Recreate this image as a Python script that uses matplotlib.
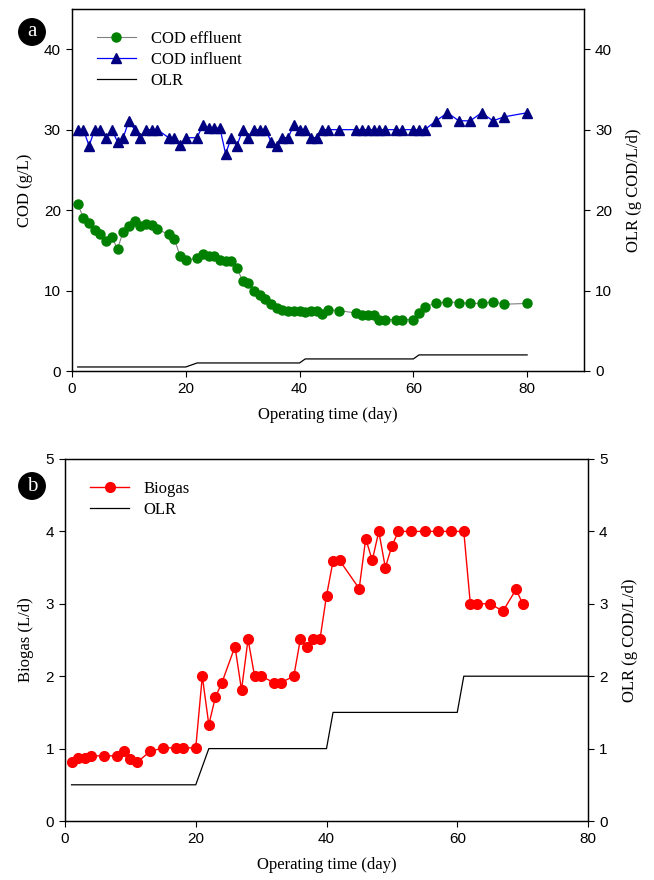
import matplotlib
matplotlib.use("Agg")
import matplotlib.pyplot as plt

# --- dane: panel a ---
eff_day = [1, 2, 3, 4, 5, 6, 7, 8, 9, 10, 11, 12, 13, 14, 15, 17, 18, 19, 20,
           22, 23, 24, 25, 26, 27, 28, 29, 30, 31, 32, 33, 34, 35, 36, 37, 38,
           39, 40, 41, 42, 43, 44, 45, 47, 50, 51, 52, 53, 54, 55, 57, 58, 60,
           61, 62, 64, 66, 68, 70, 72, 74, 76, 80]
eff_cod = [20.8, 19.0, 18.4, 17.5, 17.0, 16.1, 16.6, 15.2, 17.3, 18.0, 18.7,
           18.0, 18.3, 18.2, 17.6, 17.0, 16.4, 14.3, 13.8, 14.0, 14.5, 14.3,
           14.3, 13.8, 13.7, 13.7, 12.8, 11.2, 10.9, 9.9, 9.4, 8.9, 8.3, 7.8,
           7.6, 7.4, 7.4, 7.4, 7.3, 7.4, 7.5, 7.1, 7.6, 7.5, 7.2, 7.0, 6.9,
           6.9, 6.4, 6.4, 6.4, 6.4, 6.4, 7.2, 8.0, 8.4, 8.6, 8.5, 8.4, 8.4,
           8.6, 8.3, 8.4]

inf_day = [1, 2, 3, 4, 5, 6, 7, 8, 9, 10, 11, 12, 13, 14, 15, 17, 18, 19, 20,
           22, 23, 24, 25, 26, 27, 28, 29, 30, 31, 32, 33, 34, 35, 36, 37, 38,
           39, 40, 41, 42, 43, 44, 45, 47, 50, 51, 52, 53, 54, 55, 57, 58, 60,
           61, 62, 64, 66, 68, 70, 72, 74, 76, 80]
inf_cod = [30, 30, 28, 30, 30, 29, 30, 28.5, 29, 31.1, 30, 29, 30, 30, 30, 29,
           29, 28.1, 29, 29, 30.6, 30.2, 30.2, 30.2, 27, 29, 28, 30, 29, 30,
           30, 30, 28.5, 28, 29, 29, 30.6, 30, 30, 29, 29, 30, 30, 30, 30, 30,
           30, 30, 30, 30, 30, 30, 30, 30, 30, 31.1, 32.1, 31.1, 31.1, 32.1,
           31.1, 31.6, 32.1]

olr_day_a = [1, 20, 22, 40, 41, 60, 61, 80]
olr_a = [0.5, 0.5, 1.0, 1.0, 1.5, 1.5, 2.0, 2.0]

# --- dane: panel b ---
bio_day = [1, 2, 3, 4, 6, 8, 9, 10, 11, 13, 15, 17, 18, 20, 21, 22, 23, 24,
           26, 27, 28, 29, 30, 32, 33, 35, 36, 37, 38, 39, 40, 41, 42, 45, 46,
           47, 48, 49, 50, 51, 53, 55, 57, 59, 61, 62, 63, 65, 67, 69, 70]
biogas = [0.81, 0.87, 0.87, 0.90, 0.90, 0.90, 0.97, 0.86, 0.81, 0.96, 1.01,
          1.01, 1.01, 1.01, 2.0, 1.33, 1.71, 1.91, 2.41, 1.81, 2.51, 2.0, 2.0,
          1.91, 1.91, 2.0, 2.51, 2.41, 2.51, 2.51, 3.11, 3.59, 3.6, 3.21, 3.9,
          3.6, 4.0, 3.5, 3.8, 4.0, 4.0, 4.0, 4.0, 4.0, 4.0, 3.0, 3.0, 3.0,
          2.9, 3.2, 3.0]

olr_day_b = [1, 20, 22, 40, 41, 60, 61, 80]
olr_b = [0.5, 0.5, 1.0, 1.0, 1.5, 1.5, 2.0, 2.0]

SERIF = "Liberation Serif"
SANS = "Liberation Sans"
TICK_FS = 11
LABEL_FS = 12


def style_axis(ax, ax2):
    for a in (ax, ax2):
        a.tick_params(direction="out", length=4.5, width=0.8, labelsize=TICK_FS)
        for lab in a.get_xticklabels() + a.get_yticklabels():
            lab.set_fontfamily(SANS)
        for sp in a.spines.values():
            sp.set_linewidth(0.9)


def panel_badge(fig, x, y, letter):
    fig.text(x, y, letter, ha="center", va="center", color="white",
             fontsize=15, family=SERIF,
             bbox=dict(boxstyle="circle,pad=0.18", fc="black", ec="black"))


def legend(ax, handles):
    ax.legend(handles=handles, loc="upper left",
              bbox_to_anchor=(0.02, 0.98), frameon=False,
              prop={"family": SERIF, "size": 12}, handlelength=2.3,
              labelspacing=0.3, handletextpad=0.9)


fig = plt.figure(figsize=(6.54, 8.8), dpi=100)

# --- panel a ---
ax1 = fig.add_axes([72 / 654, 1 - 371 / 880, 512 / 654, 362 / 880])
ax1b = ax1.twinx()
l_eff, = ax1.plot(eff_day, eff_cod, color="#808080", lw=0.8, marker="o",
                  ms=6.5, mfc="#008000", mec="#008000", label="COD effluent")
l_inf, = ax1.plot(inf_day, inf_cod, color="#0000ff", lw=0.9, marker="^",
                  ms=7, mfc="#000080", mec="#000080", label="COD influent")
l_olr, = ax1b.plot(olr_day_a, olr_a, color="black", lw=0.9, label="OLR")
ax1.set_xlim(0, 90)
ax1.set_ylim(0, 45)
ax1b.set_ylim(0, 45)
ax1.set_xticks([0, 20, 40, 60, 80])
ax1.set_yticks([0, 10, 20, 30, 40])
ax1b.set_yticks([0, 10, 20, 30, 40])
ax1.set_xlabel("Operating time (day)", family=SERIF, fontsize=LABEL_FS, labelpad=8)
ax1.set_ylabel("COD (g/L)", family=SERIF, fontsize=LABEL_FS, labelpad=8)
ax1b.set_ylabel("OLR (g COD/L/d)", family=SERIF, fontsize=LABEL_FS, labelpad=10)
style_axis(ax1, ax1b)
legend(ax1, [l_eff, l_inf, l_olr])

# --- panel b ---
ax2 = fig.add_axes([65 / 654, 1 - 821 / 880, 523 / 654, 362 / 880])
ax2b = ax2.twinx()
l_bio, = ax2.plot(bio_day, biogas, color="#ff0000", lw=1.0, marker="o",
                  ms=7, mfc="#ff0000", mec="#ff0000", label="Biogas")
l_olr2, = ax2b.plot(olr_day_b, olr_b, color="black", lw=0.9, label="OLR")
ax2.set_xlim(0, 80)
ax2.set_ylim(0, 5)
ax2b.set_ylim(0, 5)
ax2.set_xticks([0, 20, 40, 60, 80])
ax2.set_yticks([0, 1, 2, 3, 4, 5])
ax2b.set_yticks([0, 1, 2, 3, 4, 5])
ax2.set_xlabel("Operating time (day)", family=SERIF, fontsize=LABEL_FS, labelpad=8)
ax2.set_ylabel("Biogas (L/d)", family=SERIF, fontsize=LABEL_FS, labelpad=8)
ax2b.set_ylabel("OLR (g COD/L/d)", family=SERIF, fontsize=LABEL_FS, labelpad=10)
style_axis(ax2, ax2b)
legend(ax2, [l_bio, l_olr2])

panel_badge(fig, 32 / 654, 1 - 32 / 880, "a")
panel_badge(fig, 32 / 654, 1 - 486 / 880, "b")

fig.savefig("out.png", dpi=100)
